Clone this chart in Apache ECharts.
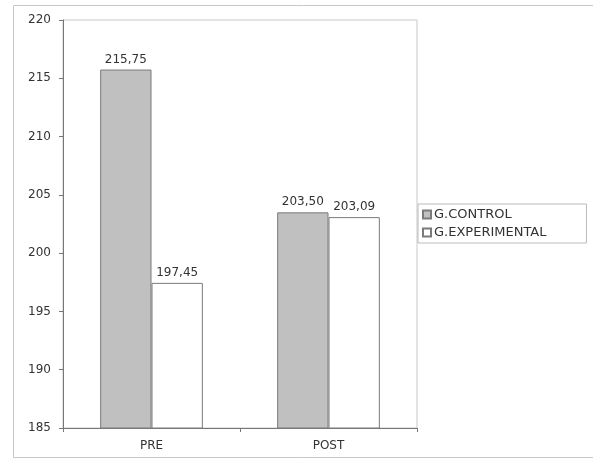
<!DOCTYPE html>
<html>
<head>
<meta charset="utf-8">
<script src="https://cdn.jsdelivr.net/npm/echarts@6/dist/echarts.min.js"></script>
<style>html,body{margin:0;padding:0;background:#fff}#c{width:593px;height:461px}</style>
</head>
<body>
<div id="c"></div>
<script>
var categories = ['PRE', 'POST'];
var seriesNames = ['G.CONTROL', 'G.EXPERIMENTAL'];
var controlValues = [215.75, 203.50];
var experimentalValues = [197.45, 203.09];

var chart = echarts.init(document.getElementById('c'));
function fmt(p) { return p.value.toFixed(2).replace('.', ','); }
var FONT = 'DejaVu Sans';
var labelStyle = { show: true, position: 'top', formatter: fmt, color: '#333', fontFamily: FONT, fontSize: 12, distance: 4 };
chart.setOption({
  animation: false,
  graphic: [{ type: 'rect', shape: { x: 13.5, y: 5.5, width: 590, height: 452 }, style: { fill: 'none', stroke: '#c8c8c8', lineWidth: 1 }, z: -1 }],
  grid: { left: 63, right: 176, top: 20, bottom: 33, show: true, borderColor: '#c8c8c8', borderWidth: 1 },
  legend: {
    orient: 'vertical', left: 418, top: 204, itemWidth: 8, itemHeight: 8, itemGap: 5, icon: 'rect',
    borderColor: '#bbb', borderWidth: 1, padding: [4, 40, 4, 4],
    textStyle: { color: '#333', fontFamily: FONT, fontSize: 13, padding: [0, 0, 0, -2] },
    data: seriesNames
  },
  xAxis: {
    type: 'category', data: categories,
    axisLine: { lineStyle: { color: '#777' } },
    axisTick: { show: true, alignWithLabel: false, length: 4, lineStyle: { color: '#777' } },
    axisLabel: { color: '#333', fontFamily: FONT, fontSize: 12, margin: 12 }
  },
  yAxis: {
    type: 'value', min: 185, max: 220, interval: 5,
    axisLine: { show: true, lineStyle: { color: '#777' } },
    axisTick: { show: true, length: 4, lineStyle: { color: '#777' } },
    splitLine: { show: false },
    axisLabel: { color: '#333', fontFamily: FONT, fontSize: 12, margin: 12 }
  },
  series: [
    { name: seriesNames[0], type: 'bar', data: controlValues, barGap: '0%', barCategoryGap: '42%',
      itemStyle: { color: '#c0c0c0', borderColor: '#7a7a7a', borderWidth: 1 }, label: labelStyle },
    { name: seriesNames[1], type: 'bar', data: experimentalValues,
      itemStyle: { color: '#ffffff', borderColor: '#7a7a7a', borderWidth: 1 }, label: labelStyle }
  ]
});
</script>
</body>
</html>
